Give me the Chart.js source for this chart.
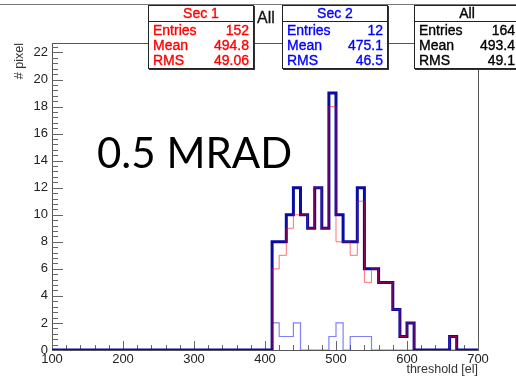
<!DOCTYPE html>
<html>
<head>
<meta charset="utf-8">
<script src="https://cdn.jsdelivr.net/npm/chart.js@4.4.1/dist/chart.umd.min.js"></script>
<style>
  html, body { margin: 0; padding: 0; background: #fff; overflow: hidden; }
  #wrap { position: relative; width: 516px; height: 379px; overflow: hidden; }
  #plot { position: absolute; left: 0; top: 0; }
  .topline { position: absolute; left: 0; top: 4px; width: 516px; height: 1px; background: #777; }
  .stat {
    position: absolute; top: 5px; width: 106px; height: 64px; box-sizing: border-box;
    background: #fff; border: 1px solid #222; box-shadow: 1px 1px 0 #333;
    font-family: "Liberation Sans", Arial, sans-serif; font-size: 14px;
    -webkit-text-stroke: 0.35px currentColor;
  }
  .stat .ttl { height: 15px; line-height: 15px; text-align: center; border-bottom: 1px solid #222; }
  .stat .row { display: flex; justify-content: space-between; height: 15px; line-height: 15px; padding: 0 4px 0 4px; }
  .stat .rows { padding-top: 1px; }
  .allLabel { position: absolute; left: 257px; top: 9px; font: 16px "Liberation Sans", Arial, sans-serif; color: #111; -webkit-text-stroke: 0.3px #111; }
  .dose { position: absolute; left: 97px; top: 127px; font: 42px Lato, "Open Sans", sans-serif; color: #000; }
</style>
</head>
<body>
<div id="wrap">
  <canvas id="plot" width="516" height="379"></canvas>
  <div class="topline"></div>
  <div class="allLabel">All</div>
  <div class="stat" id="box1" style="left:148px; color:#ff0000;"></div>
  <div class="stat" id="box2" style="left:282px; color:#0000ff;"></div>
  <div class="stat" id="box3" style="left:414px; color:#000;"></div>
  <div class="dose">0.5 MRAD</div>
</div>
<script>
// histogram bins, 10 el wide, starting at 410 el (everything else is empty)
const binStart = 410;
const binWidth = 10;
const allCounts  = [8, 8, 10, 12, 10, 9, 12, 9, 19, 10, 8, 8, 12, 6, 6, 5, 5, 3, 1, 2, 0, 0, 0, 0, 0, 1, 0];
const sec1Counts = [6, 7, 9, 10, 10, 9, 12, 9, 18, 8, 8, 7, 11, 5, 6, 5, 5, 3, 1, 2, 0, 0, 0, 0, 0, 1, 0];
const sec2Counts = [2, 1, 1, 2, 0, 0, 0, 0, 1, 2, 0, 1, 1, 1, 0, 0, 0, 0, 0, 0, 0, 0, 0, 0, 0, 0, 0];

const xTicks = [100, 200, 300, 400, 500, 600, 700];
const yTicks = [0, 2, 4, 6, 8, 10, 12, 14, 16, 18, 20, 22];

// stat box contents
const statTitles = ['Sec 1', 'Sec 2', 'All'];
const statEntries = ['152', '12', '164'];
const statMeans = ['494.8', '475.1', '493.4'];
const statRms = ['49.06', '46.5', '49.1'];

['box1', 'box2', 'box3'].forEach((id, i) => {
    const el = document.getElementById(id);
    el.innerHTML =
        '<div class="ttl">' + statTitles[i] + '</div><div class="rows">' +
        '<div class="row"><span>Entries</span><span>' + statEntries[i] + '</span></div>' +
        '<div class="row"><span>Mean</span><span>' + statMeans[i] + '</span></div>' +
        '<div class="row"><span>RMS</span><span>' + statRms[i] + '</span></div></div>';
});

// turn bin contents into step points over the full axis range
function histPoints(counts) {
    const pts = [{ x: xTicks[0], y: 0 }];
    counts.forEach((c, i) => pts.push({ x: binStart + i * binWidth, y: c }));
    pts.push({ x: binStart + counts.length * binWidth, y: 0 });
    pts.push({ x: xTicks[xTicks.length - 1], y: 0 });
    return pts;
}

// frame + ROOT style inward ticks
const framePlugin = {
    id: 'frame',
    beforeDatasetsDraw(chart) {
        const { ctx, chartArea: a, scales: { x, y } } = chart;
        ctx.save();
        ctx.strokeStyle = '#555';
        ctx.lineWidth = 1;
        ctx.strokeRect(a.left + 0.5, a.top + 0.5, a.right - a.left, a.bottom - a.top);

        ctx.strokeStyle = '#666';
        ctx.beginPath();
        for (let i = 0; i < yTicks.length; i++) {
            const py = Math.round(y.getPixelForValue(yTicks[i])) + 0.5;
            ctx.moveTo(a.left, py); ctx.lineTo(a.left + 11, py);
            const step = 2 / 5;
            for (let k = 1; k < 5; k++) {
                const v = yTicks[i] + k * step;
                if (v > y.max) break;
                const pm = Math.round(y.getPixelForValue(v)) + 0.5;
                ctx.moveTo(a.left, pm); ctx.lineTo(a.left + 6, pm);
            }
        }
        for (let i = 0; i < xTicks.length; i++) {
            const px = Math.round(x.getPixelForValue(xTicks[i])) + 0.5;
            ctx.moveTo(px, a.bottom); ctx.lineTo(px, a.bottom - 9);
            if (i < xTicks.length - 1) {
                const step = (xTicks[i + 1] - xTicks[i]) / 5;
                for (let k = 1; k < 5; k++) {
                    const pm = Math.round(x.getPixelForValue(xTicks[i] + k * step)) + 0.5;
                    ctx.moveTo(pm, a.bottom); ctx.lineTo(pm, a.bottom - 5);
                }
            }
        }
        ctx.stroke();
        ctx.restore();
    }
};

const ctx = document.getElementById('plot').getContext('2d');
const chart = new Chart(ctx, {
    type: 'line',
    data: {
        datasets: [{
            label: 'Sec 1',
            data: histPoints(sec1Counts),
            borderColor: 'rgba(255, 0, 0, 0.55)',
            borderWidth: 1,
            stepped: 'before',
            clip: { left: 0, top: 0, right: 0, bottom: -1.5 },
            order: 0
        }, {
            label: 'All',
            data: histPoints(allCounts),
            borderColor: 'rgb(10, 10, 165)',
            borderWidth: 3,
            stepped: 'before',
            order: 1
        }, {
            label: 'Sec 2',
            data: histPoints(sec2Counts),
            borderColor: 'rgba(60, 60, 255, 0.65)',
            borderWidth: 1.2,
            stepped: 'before',
            order: 2
        }]
    },
    options: {
        responsive: false,
        animation: false,
        events: [],
        layout: { padding: { top: 43, right: 38, left: 0, bottom: 0 } },
        elements: { point: { radius: 0 }, line: { tension: 0, fill: false } },
        plugins: { legend: { display: false }, tooltip: { enabled: false } },
        scales: {
            x: {
                type: 'linear',
                min: 100,
                max: 700,
                grid: { display: false, drawTicks: false },
                border: { display: false },
                afterBuildTicks: (s) => { s.ticks = xTicks.map(v => ({ value: v })); },
                afterFit: (s) => { s.height = 29; },
                ticks: {
                    autoSkip: false,
                    maxRotation: 0,
                    padding: 2,
                    color: '#222',
                    font: { family: 'Liberation Sans', size: 13 }
                },
                title: {
                    display: true,
                    text: 'threshold [el]',
                    align: 'end',
                    color: '#333',
                    padding: { top: 0, bottom: 1.5 },
                    font: { family: 'Liberation Sans', size: 12.5 }
                }
            },
            y: {
                min: 0,
                max: 22.7,
                grid: { display: false, drawTicks: false },
                border: { display: false },
                afterBuildTicks: (s) => { s.ticks = yTicks.map(v => ({ value: v })); },
                afterFit: (s) => { s.width = 52; },
                ticks: {
                    padding: 4,
                    color: '#222',
                    font: { family: 'Liberation Sans', size: 13 }
                },
                title: {
                    display: true,
                    text: '# pixel',
                    align: 'end',
                    color: '#333',
                    padding: { top: 12, bottom: 0 },
                    font: { family: 'Liberation Sans', size: 12.5 }
                }
            }
        }
    },
    plugins: [framePlugin]
});
</script>
</body>
</html>
